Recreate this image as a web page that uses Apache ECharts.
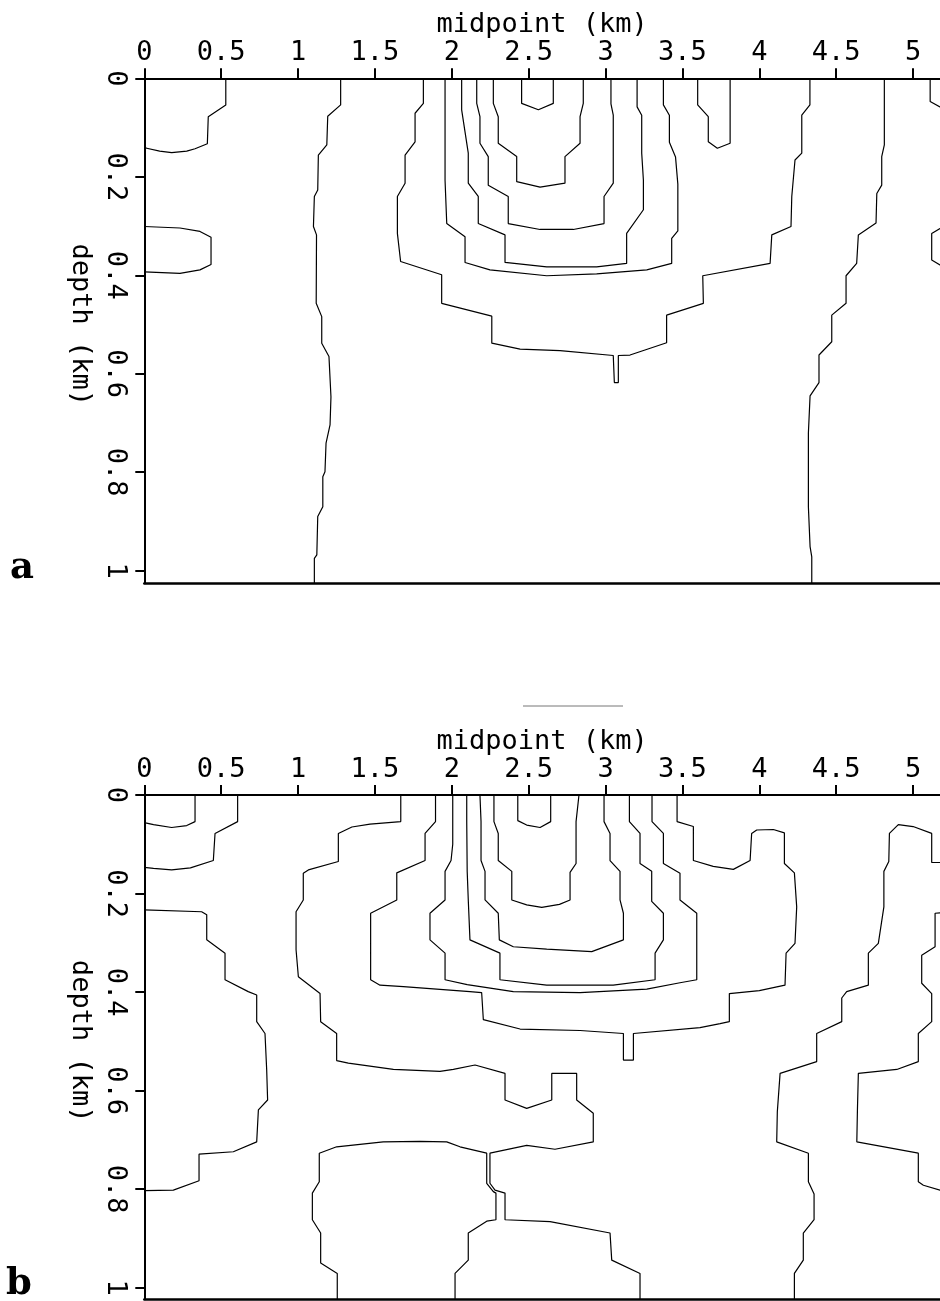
<!DOCTYPE html>
<html><head><meta charset="utf-8">
<script src="https://cdn.jsdelivr.net/npm/echarts@6.0.0/dist/echarts.min.js"></script>
<style>html,body{margin:0;padding:0;background:#fff}#chart{width:940px;height:1301px}</style>
</head><body><div id="chart"></div>
<script>
// ---- axis ticks / extents ----
const X_TICKS = [0, 0.5, 1, 1.5, 2, 2.5, 3, 3.5, 4, 4.5, 5];
const Y_TICKS = [0, 0.2, 0.4, 0.6, 0.8, 1];
const X_MAX = 5.175;
const Y_MAX_A = 1.0256;
const Y_MAX_B = 1.0235;
const X_TITLE = 'midpoint (km)';
const Y_TITLE = 'depth (km)';

// ---- panel a contours: [midpoint km, depth km] ----
const a_c1 = [[0.53,0],[0.53,0.054],[0.416,0.078],[0.41,0.133],[0.33,0.143],[0.276,0.148],[0.178,0.151],[0.1,0.148],[0.016,0.142],[0,0.142]];
const a_c2 = [[0,0.301],[0.232,0.304],[0.362,0.311],[0.434,0.323],[0.434,0.378],[0.362,0.389],[0.232,0.396],[0,0.393]];
const a_c3 = [[1.277,0],[1.277,0.054],[1.193,0.077],[1.187,0.135],[1.132,0.156],[1.128,0.227],[1.106,0.24],[1.10,0.301],[1.12,0.318],[1.118,0.457],[1.154,0.484],[1.154,0.538],[1.201,0.565],[1.214,0.647],[1.208,0.704],[1.182,0.741],[1.175,0.799],[1.161,0.809],[1.161,0.870],[1.128,0.890],[1.122,0.968],[1.106,0.975],[1.106,1.03]];
const a_c4 = [[1.815,0],[1.815,0.051],[1.761,0.071],[1.761,0.129],[1.696,0.156],[1.696,0.213],[1.646,0.24],[1.646,0.315],[1.667,0.372],[1.934,0.399],[1.934,0.457],[2.26,0.483],[2.26,0.538],[2.444,0.55],[2.704,0.553],[3.05,0.563],[3.057,0.563],[3.057,0.618],[3.083,0.618],[3.083,0.563],[3.159,0.562],[3.397,0.537],[3.397,0.481],[3.636,0.457],[3.632,0.401],[4.07,0.376],[4.081,0.318],[4.206,0.301],[4.211,0.24],[4.232,0.166],[4.276,0.152],[4.276,0.075],[4.329,0.054],[4.329,0]];
const a_c5 = [[2.454,0],[2.454,0.051],[2.563,0.064],[2.66,0.051],[2.66,0]];
const a_c6 = [[2.27,0],[2.27,0.051],[2.302,0.078],[2.302,0.132],[2.422,0.159],[2.422,0.21],[2.574,0.221],[2.736,0.213],[2.736,0.159],[2.834,0.132],[2.834,0.078],[2.855,0.051],[2.855,0]];
const a_c7 = [[2.162,0],[2.162,0.051],[2.183,0.078],[2.183,0.132],[2.237,0.159],[2.237,0.217],[2.367,0.24],[2.367,0.295],[2.574,0.307],[2.79,0.307],[2.99,0.295],[2.99,0.24],[3.05,0.213],[3.05,0.075],[3.035,0.052],[3.035,0]];
const a_c8 = [[2.064,0],[2.064,0.064],[2.107,0.152],[2.107,0.213],[2.172,0.24],[2.172,0.295],[2.346,0.318],[2.346,0.374],[2.617,0.383],[2.942,0.383],[3.137,0.376],[3.137,0.315],[3.246,0.267],[3.246,0.207],[3.235,0.152],[3.235,0.075],[3.205,0.058],[3.205,0]];
const a_c9 = [[1.956,0],[1.956,0.207],[1.967,0.295],[2.086,0.322],[2.086,0.374],[2.248,0.389],[2.617,0.401],[2.942,0.397],[3.268,0.389],[3.43,0.376],[3.43,0.325],[3.47,0.31],[3.47,0.215],[3.455,0.16],[3.415,0.13],[3.415,0.075],[3.376,0.054],[3.376,0]];
const a_c10 = [[3.599,0],[3.599,0.054],[3.668,0.078],[3.668,0.129],[3.727,0.142],[3.81,0.132],[3.81,0]];
const a_c11 = [[4.813,0],[4.813,0.135],[4.796,0.159],[4.796,0.217],[4.764,0.234],[4.759,0.294],[4.644,0.318],[4.633,0.376],[4.564,0.401],[4.564,0.457],[4.471,0.481],[4.471,0.535],[4.388,0.562],[4.388,0.618],[4.33,0.645],[4.319,0.721],[4.319,0.87],[4.33,0.951],[4.341,0.972],[4.341,1.03]];
const a_c12 = [[5.111,0],[5.111,0.047],[5.175,0.058],[5.25,0.062]];
const a_c13 = [[5.25,0.3],[5.175,0.305],[5.121,0.315],[5.121,0.369],[5.175,0.379],[5.25,0.382]];

// ---- panel b contours ----
const b_c1 = [[0.33,0],[0.33,0.054],[0.276,0.062],[0.178,0.066],[0.06,0.06],[0,0.056]];
const b_c2 = [[0.607,0],[0.607,0.054],[0.46,0.078],[0.449,0.133],[0.3,0.148],[0.178,0.152],[0.06,0.149],[0,0.147]];
const b_c3 = [[0,0.233],[0.373,0.237],[0.406,0.243],[0.406,0.294],[0.525,0.321],[0.525,0.375],[0.676,0.399],[0.731,0.406],[0.731,0.46],[0.785,0.484],[0.796,0.558],[0.802,0.619],[0.742,0.639],[0.731,0.704],[0.579,0.724],[0.356,0.729],[0.356,0.783],[0.189,0.802],[0,0.803]];
const b_c4 = [[1.668,0],[1.668,0.054],[1.468,0.059],[1.35,0.065],[1.262,0.078],[1.262,0.135],[1.067,0.152],[1.034,0.159],[1.034,0.213],[0.987,0.237],[0.987,0.314],[1.002,0.369],[1.143,0.403],[1.147,0.46],[1.251,0.484],[1.251,0.539],[1.327,0.544],[1.62,0.557],[1.923,0.561],[2.01,0.557],[2.151,0.548],[2.346,0.565],[2.346,0.619],[2.487,0.636],[2.65,0.619],[2.65,0.565],[2.812,0.565],[2.812,0.619],[2.92,0.646],[2.92,0.704],[2.671,0.719],[2.487,0.711],[2.248,0.727],[2.248,0.788],[2.281,0.802],[2.346,0.808],[2.346,0.862],[2.639,0.866],[3.029,0.889],[3.04,0.944],[3.224,0.971],[3.224,1.03]];
const b_c5 = [[1.255,1.03],[1.255,0.971],[1.147,0.95],[1.147,0.889],[1.093,0.862],[1.093,0.808],[1.138,0.785],[1.138,0.727],[1.251,0.714],[1.554,0.704],[1.793,0.703],[1.967,0.704],[2.053,0.714],[2.227,0.727],[2.227,0.788],[2.27,0.805],[2.287,0.808],[2.287,0.862],[2.227,0.865],[2.107,0.889],[2.107,0.944],[2.021,0.971],[2.021,1.03]];
const b_c6 = [[1.894,0],[1.894,0.054],[1.826,0.078],[1.826,0.133],[1.642,0.158],[1.642,0.213],[1.472,0.24],[1.472,0.375],[1.533,0.386],[1.685,0.389],[2.118,0.399],[2.194,0.401],[2.205,0.456],[2.444,0.475],[2.834,0.478],[3.116,0.484],[3.116,0.538],[3.181,0.538],[3.181,0.484],[3.614,0.472],[3.745,0.464],[3.805,0.46],[3.805,0.403],[4.0,0.397],[4.167,0.386],[4.174,0.321],[4.232,0.301],[4.243,0.227],[4.228,0.158],[4.163,0.139],[4.163,0.077],[4.091,0.07],[3.983,0.071],[3.95,0.078],[3.94,0.133],[3.831,0.151],[3.7,0.145],[3.571,0.133],[3.571,0.064],[3.465,0.054],[3.465,0]];
const b_c7 = [[2.006,0],[2.006,0.1],[1.995,0.133],[1.956,0.155],[1.956,0.213],[1.858,0.24],[1.858,0.294],[1.956,0.321],[1.956,0.375],[2.1,0.385],[2.4,0.399],[2.834,0.401],[3.268,0.394],[3.484,0.381],[3.593,0.375],[3.593,0.24],[3.484,0.213],[3.484,0.159],[3.376,0.139],[3.376,0.078],[3.302,0.054],[3.302,0]];
const b_c8 = [[2.097,0],[2.097,0.054],[2.1,0.155],[2.107,0.213],[2.118,0.294],[2.313,0.321],[2.313,0.375],[2.617,0.386],[3.05,0.386],[3.322,0.375],[3.322,0.321],[3.376,0.294],[3.376,0.24],[3.3,0.216],[3.3,0.155],[3.224,0.139],[3.224,0.078],[3.155,0.054],[3.155,0]];
const b_c9 = [[2.183,0],[2.19,0.054],[2.19,0.133],[2.216,0.155],[2.216,0.213],[2.302,0.24],[2.309,0.294],[2.4,0.308],[2.617,0.313],[2.91,0.318],[3.116,0.294],[3.116,0.24],[3.094,0.213],[3.094,0.155],[3.029,0.133],[3.029,0.078],[2.99,0.054],[2.99,0]];
const b_c10 = [[2.274,0],[2.274,0.054],[2.302,0.078],[2.302,0.133],[2.39,0.155],[2.39,0.213],[2.487,0.223],[2.585,0.228],[2.7,0.222],[2.769,0.213],[2.769,0.157],[2.808,0.139],[2.808,0.054],[2.827,0]];
const b_c11 = [[2.429,0],[2.429,0.052],[2.487,0.061],[2.574,0.066],[2.643,0.054],[2.643,0]];
const b_c12 = [[5.25,0.137],[5.121,0.137],[5.121,0.078],[5.0,0.064],[4.904,0.06],[4.846,0.078],[4.842,0.135],[4.81,0.155],[4.81,0.227],[4.774,0.301],[4.709,0.321],[4.709,0.386],[4.568,0.399],[4.536,0.412],[4.536,0.46],[4.373,0.484],[4.373,0.541],[4.135,0.565],[4.117,0.643],[4.113,0.704],[4.319,0.727],[4.319,0.785],[4.356,0.81],[4.356,0.862],[4.286,0.889],[4.286,0.944],[4.228,0.971],[4.228,1.03]];
const b_c13 = [[5.25,0.237],[5.143,0.24],[5.143,0.308],[5.056,0.325],[5.056,0.382],[5.121,0.403],[5.121,0.46],[5.034,0.484],[5.034,0.541],[4.894,0.557],[4.644,0.565],[4.638,0.639],[4.634,0.704],[5.034,0.727],[5.034,0.785],[5.067,0.792],[5.175,0.802],[5.25,0.805]];

const PANEL_A = [a_c1,a_c2,a_c3,a_c4,a_c5,a_c6,a_c7,a_c8,a_c9,a_c10,a_c11,a_c12,a_c13];
const PANEL_B = [b_c1,b_c2,b_c3,b_c4,b_c5,b_c6,b_c7,b_c8,b_c9,b_c10,b_c11,b_c12,b_c13];

// ---- styling ----
const FONT = 'DejaVu Sans Mono';
const TXT = {fontFamily: FONT, fontSize: 27, color: '#000'};

function topX(g) {
  return {
    gridIndex: g, type: 'value', position: 'top', min: 0, max: X_MAX,
    axisLine: {show: true, onZero: false, lineStyle: {color: '#000', width: 2}},
    axisTick: {show: true, customValues: X_TICKS, length: 10, lineStyle: {color: '#000', width: 2}},
    axisLabel: Object.assign({customValues: X_TICKS, margin: 12}, TXT),
    splitLine: {show: false},
    name: X_TITLE, nameLocation: 'middle', nameGap: 40, nameTextStyle: Object.assign({}, TXT)
  };
}
function bottomX(g) {
  return {
    gridIndex: g, type: 'value', position: 'bottom', min: 0, max: X_MAX,
    axisLine: {show: true, onZero: false, lineStyle: {color: '#000', width: 2.5}},
    axisTick: {show: false}, axisLabel: {show: false}, splitLine: {show: false}
  };
}
function leftY(g, ymax) {
  return {
    gridIndex: g, type: 'value', position: 'left', inverse: true, min: 0, max: ymax,
    axisLine: {show: true, onZero: false, lineStyle: {color: '#000', width: 2}},
    axisTick: {show: true, customValues: Y_TICKS, length: 9, lineStyle: {color: '#000', width: 2}},
    axisLabel: Object.assign({customValues: Y_TICKS, margin: 16, rotate: -90}, TXT),
    splitLine: {show: false},
    name: Y_TITLE, nameLocation: 'middle', nameRotate: -90, nameGap: 50,
    nameTextStyle: Object.assign({padding: [0, 12, 0, 0]}, TXT)
  };
}

function contourSeries(list, xi, yi) {
  return list.map(d => ({
    type: 'line', xAxisIndex: xi, yAxisIndex: yi, data: d,
    symbol: 'none', showSymbol: false, smooth: false, clip: true, silent: true,
    lineStyle: {color: '#000', width: 1.2}, animation: false
  }));
}

const chart = echarts.init(document.getElementById('chart'), null, {renderer: 'canvas'});
chart.setOption({
  backgroundColor: '#fff',
  animation: false,
  grid: [
    {left: 144.3, top: 78.3, width: 795.7, height: 505, containLabel: false, outerBoundsMode: 'none'},
    {left: 144.3, top: 795, width: 795.7, height: 504.3, containLabel: false, outerBoundsMode: 'none'}
  ],
  xAxis: [topX(0), bottomX(0), topX(1), bottomX(1)],
  yAxis: [leftY(0, Y_MAX_A), leftY(1, Y_MAX_B)],
  series: contourSeries(PANEL_A, 0, 0).concat(contourSeries(PANEL_B, 2, 1)),
  graphic: [
    {type: 'text', left: 10, top: 550, style: {text: 'a', font: 'bold 37px "DejaVu Serif"', fill: '#000'}},
    {type: 'text', left: 6, top: 1266, style: {text: 'b', font: 'bold 37px "DejaVu Serif"', fill: '#000'}},
    {type: 'line', shape: {x1: 523, y1: 706, x2: 623, y2: 706}, style: {stroke: '#777', lineWidth: 1}}
  ]
});
</script></body></html>
